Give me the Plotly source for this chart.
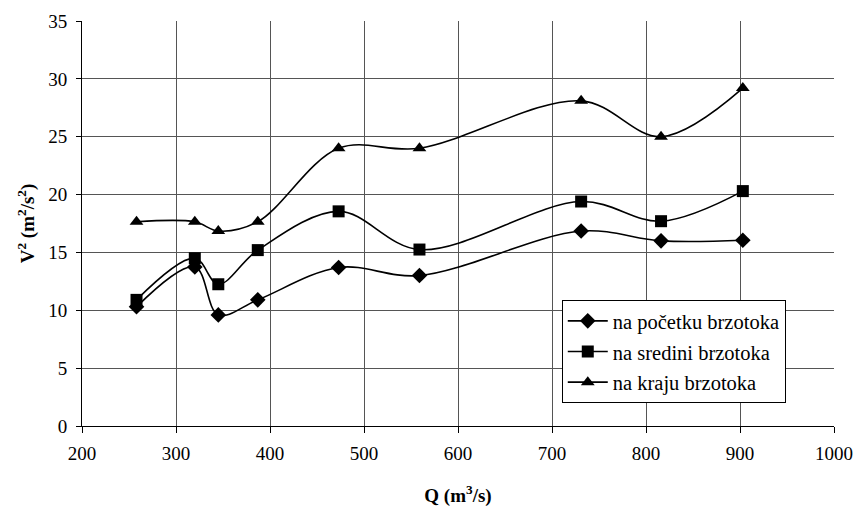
import plotly.graph_objects as go

q = [258, 320, 345, 387, 473, 559, 731, 816, 903]
v_start = [10.3, 13.75, 9.6, 10.9, 13.7, 13.0, 16.85, 16.0, 16.05]
v_mid = [10.9, 14.5, 12.25, 15.2, 18.55, 15.25, 19.4, 17.7, 20.3]
v_end = [17.65, 17.65, 16.85, 17.65, 24.0, 24.0, 28.1, 25.0, 29.2]
names = ["na početku brzotoka", "na sredini brzotoka", "na kraju brzotoka"]
symbols = ["diamond", "square", "triangle-up"]
sizes = [12, 12, 12]

FONT = "Liberation Serif, Times New Roman, serif"

fig = go.Figure()
for i, (ys, nm, sym, sz) in enumerate(zip([v_start, v_mid, v_end], names, symbols, sizes)):
    fig.add_trace(go.Scatter(
        x=q, y=ys, name=nm, mode="lines+markers", legendgroup=f"g{i}",
        line=dict(color="black", width=1.6, shape="spline", smoothing=1.0),
        marker=dict(symbol=sym, size=sz, color="black"),
    ))

fig.update_layout(
    width=856, height=507,
    margin=dict(l=82, r=22, t=21, b=81, autoexpand=False),
    paper_bgcolor="white", plot_bgcolor="white",
    font=dict(family=FONT, size=19, color="black"),
    showlegend=True,
    legend=dict(
        x=0.638, y=0.311, xanchor="left", yanchor="top",
        bgcolor="white", bordercolor="black", borderwidth=1,
        font=dict(family=FONT, size=20.5, color="black"),
        tracegroupgap=1, itemwidth=40,
    ),
    xaxis=dict(
        range=[200, 1000], dtick=100, tick0=200,
        showgrid=True, gridcolor="#555555", gridwidth=1,
        showline=True, linecolor="black", linewidth=1, mirror=False,
        ticks="outside", ticklen=6, tickcolor="black",
        zeroline=False, automargin=False, ticklabelstandoff=4,
        tickfont=dict(family=FONT, size=19),
        title=dict(text="<b>Q (m<sup>3</sup>/s)</b>", font=dict(family=FONT, size=19), standoff=28),
    ),
    yaxis=dict(
        range=[0, 35], dtick=5,
        showgrid=True, gridcolor="#555555", gridwidth=1,
        showline=True, linecolor="black", linewidth=1,
        ticks="outside", ticklen=5, tickcolor="black",
        zeroline=False, automargin=False, ticklabelstandoff=5,
        tickfont=dict(family=FONT, size=19),
        title=dict(text="<b>V<sup>2</sup> (m<sup>2</sup>/s<sup>2</sup>)</b>", font=dict(family=FONT, size=19), standoff=8),
    ),
)

fig.write_html("out.html")
